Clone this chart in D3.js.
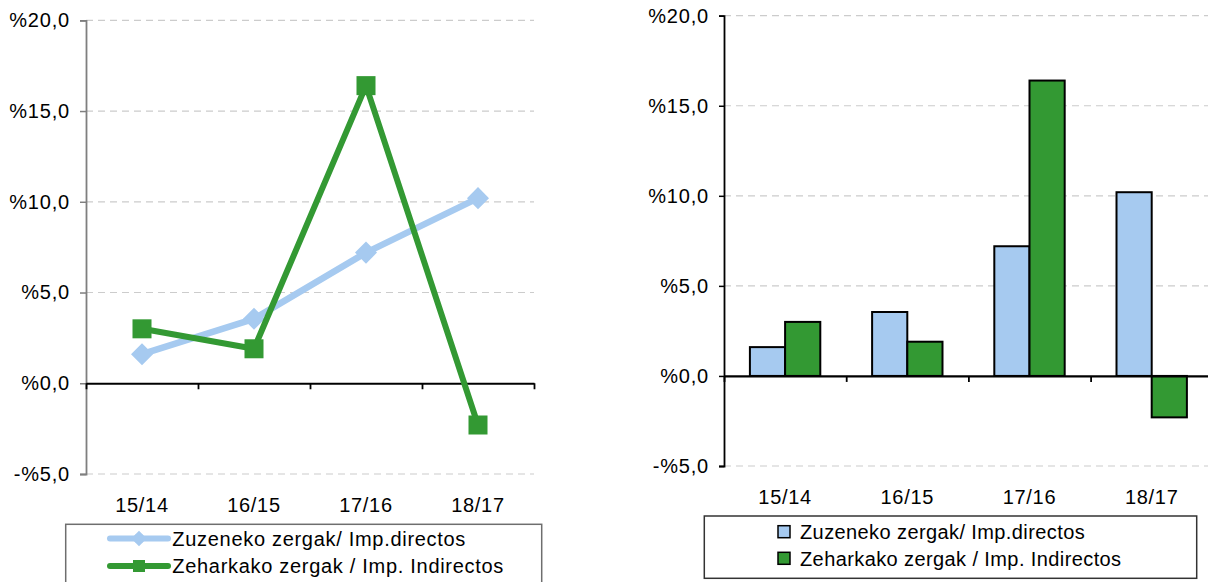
<!DOCTYPE html>
<html>
<head>
<meta charset="utf-8">
<script src="https://cdn.jsdelivr.net/npm/d3@7"></script>
<style>
  html, body { margin: 0; padding: 0; background: #fff; }
  svg { display: block; font-family: "Liberation Sans", Arial, sans-serif; }
</style>
</head>
<body>
<svg id="chart" width="1208" height="582"></svg>
<script>
// ---- data ----
const categories = ["15/14", "16/15", "17/16", "18/17"];
const directos = [1.6, 3.55, 7.2, 10.2];
const indirectos = [3.0, 1.9, 16.4, -2.3];
const yTicks = [-5, 0, 5, 10, 15, 20];
const seriesNames = ["Zuzeneko zergak/ Imp.directos", "Zeharkako zergak / Imp. Indirectos"];
const colBlue = "#A6CAF0";
const colGreen = "#339933";

const svg = d3.select("#chart");
const fmt = v => (v < 0 ? "-" : "") + "%" + d3.format(".1f")(Math.abs(v)).replace(".", ",");

function frame(cfg) {
  const g = svg.append("g");
  const y = d3.scaleLinear().domain([-5, 20]).range([cfg.yBot, cfg.yTop]);
  const x = d3.scaleBand().domain(categories).range([cfg.x0, cfg.x1]);
  const xi = d3.scaleLinear().domain([0, categories.length]).range([cfg.x0, cfg.x1]);

  // gridlines
  g.append("g").selectAll("line").data(yTicks.filter(v => v !== 0)).join("line")
    .attr("x1", cfg.x0).attr("x2", cfg.x1)
    .attr("y1", d => y(d)).attr("y2", d => y(d))
    .attr("stroke", "#cccccc").attr("stroke-width", 1.2)
    .attr("stroke-dasharray", "7,5");

  // y axis
  const ya = g.append("g").attr("transform", `translate(${cfg.x0},0)`)
    .call(d3.axisLeft(y).tickValues(yTicks).tickFormat(fmt).tickSize(cfg.tickY).tickPadding(10));
  ya.select(".domain").attr("stroke", cfg.yAxisColor).attr("stroke-width", 1.8);
  ya.selectAll(".tick line").attr("stroke", cfg.yAxisColor).attr("stroke-width", 1.5);
  ya.selectAll("text").attr("font-size", 20).attr("fill", "#000")
    .attr("font-family", "Liberation Sans, Arial, sans-serif").style("letter-spacing", "0.8px");

  // category labels (low position)
  const xl = g.append("g").attr("transform", `translate(0,${cfg.yBot})`)
    .call(d3.axisBottom(x).tickSize(0).tickPadding(23.5));
  xl.select(".domain").remove();
  xl.selectAll("text").attr("font-size", 20).attr("fill", "#000")
    .attr("font-family", "Liberation Sans, Arial, sans-serif").style("letter-spacing", "0.7px");

  return { g, x, y, xi };
}

function zeroAxis(c, cfg) {
  const za = c.g.append("g").attr("transform", `translate(0,${c.y(0)})`)
    .call(d3.axisBottom(c.xi).tickValues(d3.range(categories.length + 1)).tickFormat("").tickSize(6).tickSizeOuter(0));
  za.select(".domain").attr("stroke", "#000").attr("stroke-width", 2.2);
  za.selectAll(".tick line").attr("stroke", "#000").attr("stroke-width", 1.8);
}

function legend(cfg, kind) {
  const lg = svg.append("g");
  lg.append("rect").attr("x", cfg.lx).attr("y", cfg.ly).attr("width", cfg.lw).attr("height", cfg.lh)
    .attr("fill", "#fff").attr("stroke", cfg.lstroke).attr("stroke-width", 1.5);
  seriesNames.forEach((name, i) => {
    const cy = cfg.rowY[i];
    const col = i === 0 ? colBlue : colGreen;
    if (kind === "line") {
      lg.append("line").attr("x1", cfg.sx0).attr("x2", cfg.sx1).attr("y1", cy).attr("y2", cy)
        .attr("stroke", col).attr("stroke-width", 6).attr("stroke-linecap", "round");
      const cx = (cfg.sx0 + cfg.sx1) / 2;
      if (i === 0) {
        lg.append("path").attr("d", d3.symbol(d3.symbolDiamond2, 75)()).attr("transform", `translate(${cx},${cy}) rotate(45)`)
          .attr("fill", col);
        lg.append("rect").attr("x", cx - 5.5).attr("y", cy - 5.5).attr("width", 11).attr("height", 11)
          .attr("transform", `rotate(45,${cx},${cy})`).attr("fill", col);
      } else {
        lg.append("rect").attr("x", cx - 6).attr("y", cy - 6).attr("width", 12).attr("height", 12).attr("fill", col);
      }
    } else {
      lg.append("rect").attr("x", cfg.sx0).attr("y", cy - 6).attr("width", 12).attr("height", 12)
        .attr("fill", col).attr("stroke", "#000").attr("stroke-width", 1.5);
    }
    lg.append("text").attr("x", cfg.tx).attr("y", cy).attr("dy", "0.36em")
      .attr("font-size", 20).attr("fill", "#000").style("letter-spacing", cfg.ls)
      .text(name);
  });
}

// ---------- Left: line chart ----------
const L = { x0: 86, x1: 534, yTop: 20.3, yBot: 474, tickY: 6, yAxisColor: "#7f7f7f" };
const lc = frame(L);
zeroAxis(lc, L);

const lineGen = d3.line().x((d, i) => lc.x(categories[i]) + lc.x.bandwidth() / 2).y(d => lc.y(d));
// blue series
lc.g.append("path").datum(directos).attr("d", lineGen).attr("fill", "none")
  .attr("stroke", colBlue).attr("stroke-width", 6.5).attr("stroke-linejoin", "round");
lc.g.append("g").selectAll("rect").data(directos).join("rect")
  .each(function (d, i) {
    const cx = lc.x(categories[i]) + lc.x.bandwidth() / 2, cy = lc.y(d);
    d3.select(this).attr("x", cx - 7.8).attr("y", cy - 7.8).attr("width", 15.6).attr("height", 15.6)
      .attr("transform", `rotate(45,${cx},${cy})`).attr("fill", colBlue);
  });
// green series
lc.g.append("path").datum(indirectos).attr("d", lineGen).attr("fill", "none")
  .attr("stroke", colGreen).attr("stroke-width", 6).attr("stroke-linejoin", "round");
lc.g.append("g").selectAll("rect").data(indirectos).join("rect")
  .attr("x", (d, i) => lc.x(categories[i]) + lc.x.bandwidth() / 2 - 9.5)
  .attr("y", d => lc.y(d) - 9.5).attr("width", 19).attr("height", 19).attr("fill", colGreen);

legend({ lx: 65.7, ly: 524.3, lw: 476, lh: 72, lstroke: "#6e6e6e", rowY: [538.5, 566], sx0: 110, sx1: 168, tx: 172.3, ls: "0.7px" }, "line");

// ---------- Right: bar chart ----------
const R = { x0: 724, x1: 1212.8, yTop: 15.7, yBot: 466, tickY: 5, yAxisColor: "#000" };
const rc = frame(R);
const bw = rc.x.bandwidth();
const barW = bw * 0.288;
const off = (bw - 2 * barW) / 2;
const bars = rc.g.append("g");
[directos, indirectos].forEach((vals, s) => {
  bars.append("g").selectAll("rect").data(vals).join("rect")
    .attr("x", (d, i) => rc.x(categories[i]) + off + s * barW)
    .attr("y", d => rc.y(Math.max(0, d)))
    .attr("width", barW)
    .attr("height", d => Math.abs(rc.y(d) - rc.y(0)))
    .attr("fill", s === 0 ? colBlue : colGreen)
    .attr("stroke", "#000").attr("stroke-width", 2);
});
zeroAxis(rc, R);

legend({ lx: 704.3, ly: 516, lw: 492.4, lh: 62.3, lstroke: "#333", rowY: [531.7, 558.3], sx0: 778, sx1: 790, tx: 800, ls: "0.4px" }, "bar");
</script>
</body>
</html>
